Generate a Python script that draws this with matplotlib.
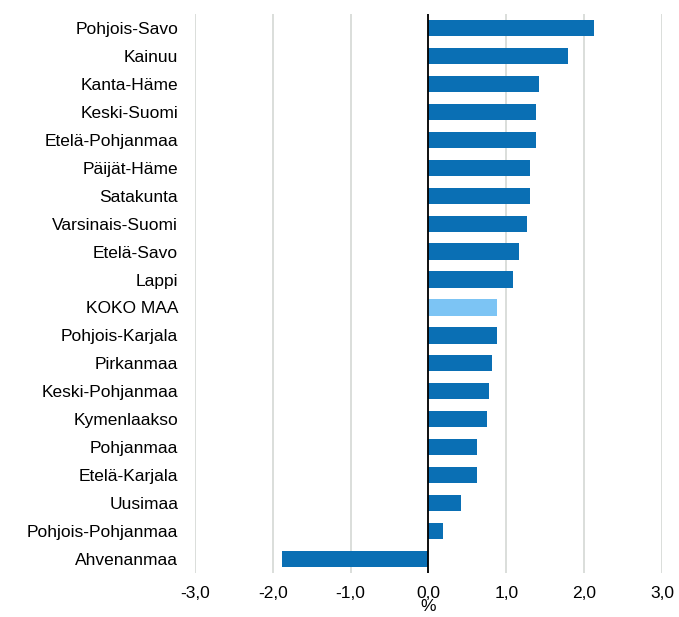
import matplotlib.pyplot as plt

plt.rcParams['font.family'] = ['Liberation Sans', 'DejaVu Sans']

# data, top to bottom
regions = ['Pohjois-Savo', 'Kainuu', 'Kanta-Häme', 'Keski-Suomi', 'Etelä-Pohjanmaa',
           'Päijät-Häme', 'Satakunta', 'Varsinais-Suomi', 'Etelä-Savo', 'Lappi',
           'KOKO MAA', 'Pohjois-Karjala', 'Pirkanmaa', 'Keski-Pohjanmaa', 'Kymenlaakso',
           'Pohjanmaa', 'Etelä-Karjala', 'Uusimaa', 'Pohjois-Pohjanmaa', 'Ahvenanmaa']
values = [2.12, 1.79, 1.42, 1.38, 1.38, 1.31, 1.31, 1.26, 1.16, 1.08,
          0.88, 0.88, 0.81, 0.78, 0.75, 0.63, 0.63, 0.42, 0.19, -1.88]
xticks = [-3, -2, -1, 0, 1, 2, 3]
xticklabels = ['-3,0', '-2,0', '-1,0', '0,0', '1,0', '2,0', '3,0']

colors = ['#7cc4f4' if r == 'KOKO MAA' else '#0a6fb4' for r in regions]

fig = plt.figure(figsize=(6.79, 6.17), dpi=100)
ax = fig.add_axes([0.287, 0.0713, 0.688, 0.906])

ypos = list(range(len(regions)))
ax.barh(ypos, values, height=0.58, color=colors, zorder=3)
ax.set_ylim(len(regions) - 0.5, -0.5)
ax.set_xlim(-3, 3)

ax.set_xticks(xticks)
ax.set_xticklabels(xticklabels, fontsize=12.5)
ax.set_yticks(ypos)
ax.set_yticklabels(regions, fontsize=12.5)
ax.tick_params(length=0)
ax.tick_params(axis='y', pad=12)
ax.tick_params(axis='x', pad=9)

ax.grid(axis='x', color='#d4d8d4', linewidth=1.2, zorder=0)
ax.axvline(0, color='black', linewidth=1.3, zorder=4)
for s in ax.spines.values():
    s.set_visible(False)

ax.set_xlabel('%', fontsize=12.5, labelpad=-1)

plt.savefig('out.png', dpi=100)
